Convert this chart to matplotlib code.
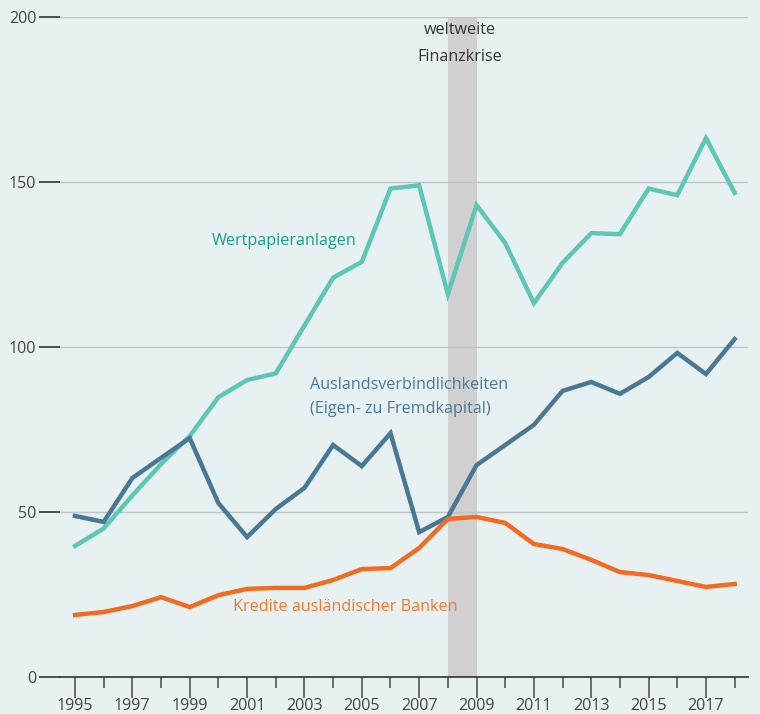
import matplotlib
matplotlib.use("Agg")
import matplotlib.pyplot as plt
from matplotlib.ticker import FixedLocator

years = list(range(1995, 2019))
wertpapier = [39.7, 45.0, 55.0, 64.5, 73.0, 84.8, 90.0, 92.0, 106.5, 121.0, 125.8, 148.0, 149.0,
              116.0, 143.0, 131.5, 113.3, 125.5, 134.5, 134.2, 148.0, 146.0, 163.3, 146.7]
ausland = [48.8, 47.0, 60.3, 66.4, 72.4, 52.7, 42.4, 50.9, 57.3, 70.3, 63.9, 73.9, 43.9,
           48.5, 64.2, 70.3, 76.4, 86.7, 89.4, 85.8, 90.9, 98.2, 91.8, 102.4]
kredite = [18.8, 19.7, 21.5, 24.2, 21.2, 24.8, 26.7, 27.0, 27.0, 29.4, 32.7, 33.0, 39.1,
           47.9, 48.5, 46.7, 40.3, 38.8, 35.5, 31.8, 30.9, 29.1, 27.3, 28.2]
crisis = (2008, 2009)
yticks = [0, 50, 100, 150, 200]
xlabels = list(range(1995, 2019, 2))

plt.rcParams['font.family'] = ['Open Sans', 'DejaVu Sans']
bg = '#e8f1f2'
fs = 11.6
fig = plt.figure(figsize=(7.6, 7.14), dpi=100, facecolor=bg)
ax = fig.add_axes([60/760, 37/714, 688/760, 660/714], facecolor=bg)

ax.axvspan(crisis[0], crisis[1], color='#d0d0d0', zorder=1, lw=0)
for y in yticks[1:]:
    ax.axhline(y, color='#bcc4c6', lw=1, zorder=2)

ax.plot(years, wertpapier, color='#5ec6b5', lw=3.2, zorder=4, solid_joinstyle='miter')
ax.plot(years, ausland, color='#487896', lw=3.2, zorder=4, solid_joinstyle='miter')
ax.plot(years, kredite, color='#f36b21', lw=3.2, zorder=5, solid_joinstyle='miter')

ax.set_xlim(1995 - 15/28.68, 1995 + 673/28.68)
ax.set_ylim(0, 200)
for s in ['top', 'right', 'left']:
    ax.spines[s].set_visible(False)
ax.spines['bottom'].set_color('#333333')
ax.spines['bottom'].set_linewidth(1.2)

ax.set_yticks(yticks)
ax.set_yticklabels([str(v) for v in yticks])
ax.tick_params(axis='y', length=15, width=1.2, color='#333333', pad=2,
               labelsize=fs, labelcolor='#444444')
ax.xaxis.set_major_locator(FixedLocator(xlabels))
ax.set_xticklabels([str(v) for v in xlabels])
ax.xaxis.set_minor_locator(FixedLocator(list(range(1996, 2019, 2))))
ax.tick_params(axis='x', which='major', length=15, width=1.2, color='#555555', pad=0,
               labelsize=fs, labelcolor='#444444')
ax.tick_params(axis='x', which='minor', length=8, width=1.2, color='#555555')

ax.text(2008.42, 196.0, 'weltweite', ha='center', va='center', fontsize=fs, color='#333333')
ax.text(2008.42, 187.9, 'Finanzkrise', ha='center', va='center', fontsize=fs, color='#333333')
ax.text(2002.3, 132.1, 'Wertpapieranlagen', ha='center', va='center', fontsize=fs, color='#1a9e8e')
ax.text(2003.2, 88.5, 'Auslandsverbindlichkeiten', ha='left', va='center', fontsize=fs, color='#4a7896')
ax.text(2003.2, 81.2, '(Eigen- zu Fremdkapital)', ha='left', va='center', fontsize=fs, color='#4a7896')
ax.text(2000.5, 21.2, 'Kredite ausländischer Banken', ha='left', va='center', fontsize=fs, color='#f47a30', zorder=6)

fig.savefig('out.png', dpi=100, facecolor=bg)
